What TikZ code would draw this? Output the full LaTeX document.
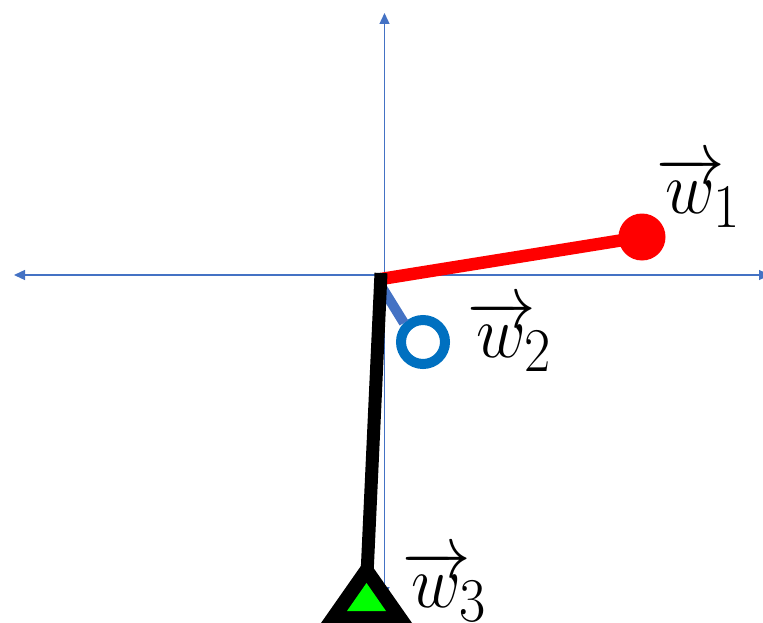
\documentclass[tikz,border=0pt]{standalone}
\usepackage{graphicx}
\usetikzlibrary{arrows.meta}
\definecolor{axisblue}{HTML}{4472C4}
\definecolor{ringblue}{HTML}{0070C0}
\definecolor{tgreen}{HTML}{00FF00}
\tikzset{
  axis/.style={draw=axisblue, line width=1.3pt, -{Triangle[length=11pt,width=10pt]}},
  vlabel/.style={font=\fontsize{24.88}{30}\selectfont, inner sep=0pt, anchor=base west}
}
\newcommand{\biglab}[1]{\scalebox{2.75}[3.0]{$\overrightarrow{w}\mkern-3mu_{#1}$}}
\begin{document}
\begin{tikzpicture}[x=1pt,y=-1pt]
\useasboundingbox (0,0) rectangle (763,623);
\coordinate (O) at (384.5,275);
\coordinate (axL) at (14,275);
\coordinate (axR) at (770,275);
\coordinate (axT) at (384.5,13);
\coordinate (axB) at (384.5,598);
\draw[axis] (O) -- (axL);
\draw[axis] (O) -- (axR);
\draw[axis] (O) -- (axT);
\draw[axis] (O) -- (axB);
% red vector
\coordinate (rs) at (381,279);
\node[circle, fill=red, minimum size=47pt, inner sep=0pt] (w1dot) at (642,237) {};
\draw[red, line width=12.5pt] (rs) -- (w1dot.center);
% blue vector
\coordinate (bs) at (378,281);
\node[circle, draw=ringblue, line width=10pt, minimum size=44pt, inner sep=0pt] (w2ring) at (423,342) {};
\draw[axisblue, line width=10pt] (bs) -- (w2ring.north west);
% black vector with triangle
\coordinate (ks) at (381,273);
\fill[black] (321,623) -- (412,623) -- (366.5,558) -- cycle;
\fill[tgreen] (347,611) -- (386,611) -- (366.5,583) -- cycle;
\coordinate (ke) at (367,575);
\draw[black, line width=13pt] (ks) -- (ke);
% labels
\node[vlabel] (l1) at (656,213) {\biglab{1}};
\node[vlabel] (l2) at (467,357) {\biglab{2}};
\node[vlabel] (l3) at (402,607) {\biglab{3}};
\end{tikzpicture}
\end{document}
